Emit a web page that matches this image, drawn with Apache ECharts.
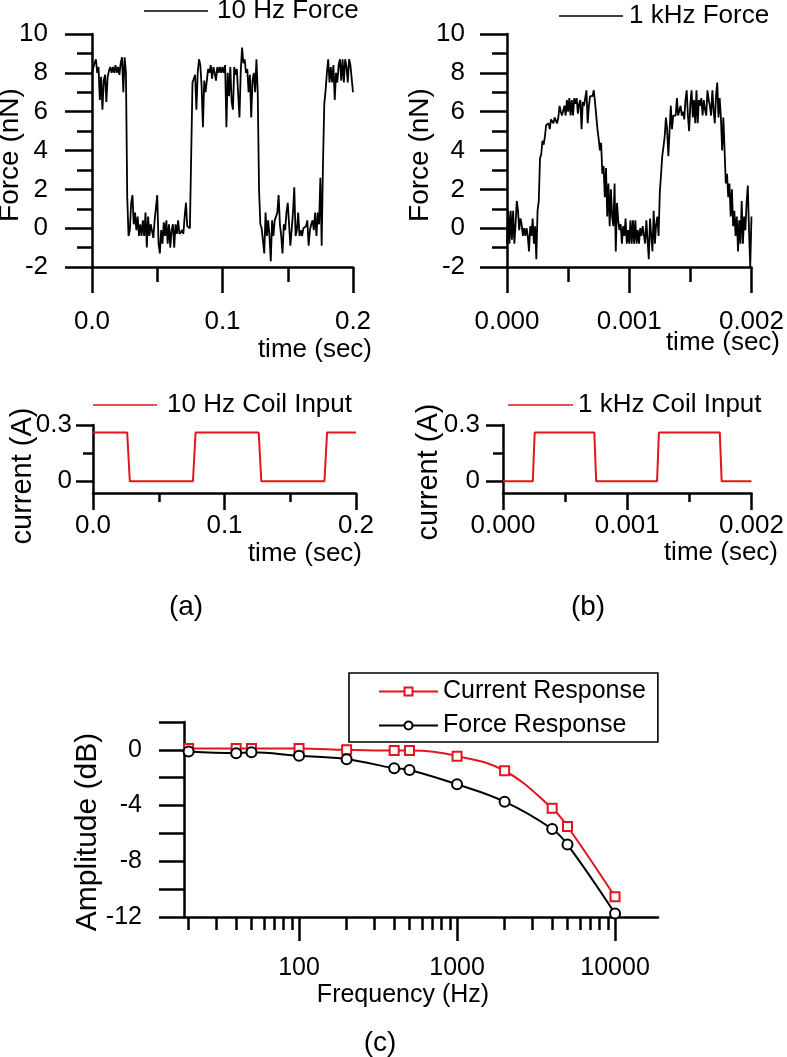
<!DOCTYPE html>
<html>
<head>
<meta charset="utf-8">
<title>Coil input and force response</title>
<script src="https://cdn.jsdelivr.net/npm/echarts@6/dist/echarts.min.js"></script>
<style>
  html, body { margin: 0; padding: 0; background: #fff; }
  #chart { width: 787px; height: 1057px; }
</style>
</head>
<body>
<div id="chart"></div>
<script>
// sampling step of the force traces (10 Hz: 1 ms, 1 kHz: 10 us)
const step10 = 0.001
const step1k = 0.00001

// 10 Hz force trace (nN), one value per 1 ms, 0 .. 0.2 s
const force10 = [
  8.0, 8.1, 8.5, 8.7, 8.0, 8.3, 6.6, 7.8, 6.1, 7.6,
  7.9, 6.5, 7.8, 8.1, 8.3, 8.0, 8.3, 8.0, 8.4, 8.0,
  8.3, 7.9, 8.5, 8.8, 7.0, 8.8, 8.0, 1.6, -0.4, -0.1,
  1.3, 1.7, 0.2, 0.8, -0.1, 0.6, -0.4, 0.2, -0.4, 0.4,
  -0.4, 0.8, -1.0, 0.6, -0.4, 0.2, 0.3, -0.5, 0.4, 0.4,
  1.7, -0.8, -1.3, -0.1, -0.8, 0.3, -0.4, 0.4, -0.8, 0.2,
  -1.0, -0.1, 0.2, -1.0, 0.2, -0.3, 0.4, -0.3, -0.4, -0.1,
  -0.3, 0.6, 1.3, 0.1, 0.1, 0.0, 3.7, 7.5, 7.6, 7.9,
  6.1, 8.0, 8.7, 8.4, 7.3, 5.2, 7.6, 7.0, 7.6, 8.2,
  8.0, 8.4, 7.7, 8.3, 8.0, 7.6, 8.3, 8.0, 8.3, 8.0,
  8.3, 8.0, 8.4, 5.2, 8.0, 6.8, 8.3, 6.5, 6.1, 8.3,
  7.9, 8.2, 6.9, 5.7, 8.1, 9.3, 8.5, 8.7, 8.0, 8.2,
  7.0, 7.9, 5.7, 7.6, 8.0, 7.0, 8.7, 7.0, 2.0, 0.2,
  0.0, 0.0, -1.3, 0.8, -0.4, 0.4, -0.4, -1.7, 0.4, -0.4,
  0.4, 0.3, 0.8, 1.7, 0.2, -0.4, -1.3, 0.2, -0.1, 0.8,
  1.3, 0.2, -0.9, -0.1, 0.8, 2.1, -0.4, -0.1, 0.8, -0.4,
  -0.1, -0.4, 0.0, -0.1, 0.1, 0.4, -0.9, -0.1, 0.2, 0.4,
  -0.1, 0.8, -0.4, 0.8, 0.2, 2.6, -0.9, 3.3, 6.4, 7.1,
  8.0, 8.7, 7.5, 8.3, 7.5, 8.4, 6.6, 8.0, 7.5, 8.4,
  8.7, 7.6, 8.7, 7.5, 8.7, 8.3, 7.5, 8.7, 8.4, 8.5,
  7.0
]

// 1 kHz force trace (nN), one value per 10 us, 0 .. 0.002 s
const force1k = [
  -0.8, 0.9, -0.8, 0.9, -0.6, 0.9, -0.8, 0.2, 1.4, 0.9,
  -0.1, 0.5, 0.2, -0.4, 0.0, -0.4, 0.0, -0.4, -1.2, 0.1,
  -0.4, 0.5, -0.8, 0.1, -1.6, 0.9, 1.4, 3.6, 3.8, 4.5,
  4.3, 4.7, 5.3, 5.2, 5.4, 5.1, 5.6, 5.7, 5.4, 5.7,
  5.7, 5.4, 5.7, 6.3, 6.0, 5.8, 5.8, 6.3, 5.8, 6.6,
  6.0, 6.7, 5.8, 6.6, 5.8, 6.7, 6.4, 6.7, 5.9, 6.4,
  6.6, 5.1, 6.5, 6.3, 6.7, 7.1, 5.4, 6.3, 6.8, 6.7,
  6.8, 7.1, 6.5, 5.8, 5.1, 4.6, 4.0, 4.4, 2.8, 3.2,
  1.6, 3.1, 0.6, 2.3, 0.1, 2.0, 0.6, 0.1, 2.3, -1.2,
  1.3, 0.4, -0.1, 0.2, -0.8, 0.1, -0.4, 0.5, -0.8, -0.1,
  -0.8, 0.4, -0.8, 0.4, -0.8, 0.4, -0.8, -0.1, -0.8, 0.0,
  -0.4, 0.1, 0.0, -0.8, 0.4, 0.3, -1.6, 0.5, -0.4, -1.2,
  0.9, -0.8, 0.2, 0.6, -0.4, 1.8, 1.9, 3.7, 3.8, 4.7,
  5.7, 5.1, 3.7, 3.6, 6.3, 5.1, 5.8, 5.7, 5.8, 6.7,
  5.8, 5.8, 6.3, 5.8, 6.0, 5.6, 6.6, 7.1, 5.8, 5.0,
  6.4, 7.1, 5.7, 6.6, 5.4, 7.1, 5.4, 6.6, 6.3, 6.7,
  5.8, 6.6, 6.1, 5.8, 7.1, 6.6, 6.3, 5.8, 7.1, 6.1,
  5.4, 6.8, 7.5, 5.7, 6.7, 5.7, 4.0, 5.7, 4.0, 2.3,
  2.8, 1.6, 2.3, 0.6, 2.0, 0.1, 0.9, -0.4, 0.6, -1.2,
  0.4, -0.8, 1.4, -0.8, 0.6, -0.1, 1.3, 2.2, -0.1, -2.0,
  0.6
]

// coil input square waves (A)
const coilTime10 = [0, 0.026, 0.028, 0.076, 0.078, 0.126, 0.128, 0.176, 0.178, 0.2]
const coilAmp10 = [0.26, 0.26, 0, 0, 0.26, 0.26, 0, 0, 0.26, 0.26]
const coilTime1k = [0, 0.00024, 0.000255, 0.000735, 0.00075, 0.00124, 0.001255, 0.001745, 0.00176, 0.002]
const coilAmp1k = [0, 0, 0.26, 0.26, 0, 0, 0.26, 0.26, 0, 0]

// frequency response (dB)
const freqs = [20, 40, 50, 100, 200, 400, 500, 1000, 2000, 4000, 5000, 10000]
const currentDb = [0.1, 0.1, 0.1, 0.1, 0.0, -0.05, -0.05, -0.45, -1.5, -4.2, -5.5, -10.55]
const forceDb = [-0.12, -0.24, -0.17, -0.43, -0.67, -1.32, -1.44, -2.47, -3.72, -5.68, -6.8, -11.75]

// tick values for the log frequency axis
const majorFreqTicks = [100, 1000, 10000]
const minorFreqTicks = [20, 30, 40, 50, 60, 70, 80, 90,
  200, 300, 400, 500, 600, 700, 800, 900,
  2000, 3000, 4000, 5000, 6000, 7000, 8000, 9000]
const coilMajorTicks = [0, 0.3]
const coilMinorTicks = [0.15]

const FONT = '"Liberation Sans", Arial, Helvetica, sans-serif'
const BLACK = '#000'
const RED = '#e2141c'
const AXIS_W = 2.5
const FREQ_MIN = 18.7
const FREQ_MAX = 18700
const COIL_MIN = -0.063
const COIL_MAX = 0.3

const chart = echarts.init(document.getElementById('chart'), null, { renderer: 'canvas' })

const axisLine = { show: true, onZero: false, lineStyle: { color: BLACK, width: AXIS_W } }
const hiddenLine = { show: false, onZero: false }
const tickStyle = { color: BLACK, width: AXIS_W }
const label = (size, margin, extra) => Object.assign({ color: BLACK, fontFamily: FONT, fontSize: size, margin }, extra)

const timeAxis = (grid, max, interval, digits, opts) => ({
  type: 'value', gridIndex: grid, position: 'bottom', min: 0, max, interval,
  axisLine,
  axisTick: { show: true, inside: false, length: opts.tick, lineStyle: tickStyle },
  minorTick: { show: true, splitNumber: 2, length: opts.minor, lineStyle: tickStyle },
  axisLabel: label(26, opts.margin, { formatter: v => v.toFixed(digits) }),
  splitLine: { show: false },
  minorSplitLine: { show: false },
})

const forceYAxis = (grid, margin) => ({
  type: 'value', gridIndex: grid, position: 'left', min: -2, max: 10, interval: 2,
  axisLine,
  axisTick: { show: true, length: 27, lineStyle: tickStyle },
  minorTick: { show: true, splitNumber: 2, length: 15, lineStyle: tickStyle },
  axisLabel: label(26, margin),
  splitLine: { show: false },
})

const coilYAxis = (grid, margin) => ({
  type: 'value', gridIndex: grid, position: 'left', min: COIL_MIN, max: COIL_MAX,
  axisLine,
  axisTick: { show: true, length: 17, lineStyle: tickStyle, customValues: coilMajorTicks },
  axisLabel: label(26, margin, { customValues: coilMajorTicks, formatter: v => (v === 0 ? '0' : v.toFixed(1)) }),
  splitLine: { show: false },
})

const coilYMinor = grid => ({
  type: 'value', gridIndex: grid, position: 'left', min: COIL_MIN, max: COIL_MAX,
  axisLine: hiddenLine,
  axisTick: { show: true, length: 10, lineStyle: tickStyle, customValues: coilMinorTicks },
  axisLabel: { show: false },
  splitLine: { show: false },
})

const lineLegend = (name, left, top, width, gap) => ({
  data: [name], left, top, padding: 0,
  icon: 'rect', itemWidth: width, itemHeight: 1.6,
  textStyle: { color: BLACK, fontFamily: FONT, fontSize: 26, padding: [0, 0, 0, gap] },
})

const text = (str, x, y, size, opts = {}) => ({
  type: 'text', x, y, rotation: opts.rotate ? Math.PI / 2 : 0,
  style: {
    text: str, fill: BLACK, fontFamily: FONT, fontSize: size,
    align: opts.align || 'center', verticalAlign: 'middle',
  },
})

const option = {
  animation: false,
  backgroundColor: '#fff',
  grid: [
    { left: 92, top: 34, width: 261, height: 233 },
    { left: 507, top: 34, width: 260, height: 233 },
    { left: 93, top: 425, width: 263, height: 68 },
    { left: 503, top: 425, width: 262, height: 68 },
    { left: 184, top: 722, width: 474, height: 195 },
  ],
  xAxis: [
    timeAxis(0, 0.2, 0.1, 1, { tick: 26, minor: 15, margin: 42 }),
    timeAxis(1, 0.002, 0.001, 3, { tick: 26, minor: 15, margin: 42 }),
    timeAxis(2, 0.2, 0.1, 1, { tick: 17, minor: 9, margin: 20 }),
    timeAxis(3, 0.002, 0.001, 3, { tick: 17, minor: 9, margin: 20 }),
    {
      type: 'log', gridIndex: 4, position: 'bottom', min: FREQ_MIN, max: FREQ_MAX, logBase: 10,
      axisLine,
      axisTick: { show: false },
      axisLabel: { show: false },
      splitLine: { show: false },
    },
    {
      type: 'value', gridIndex: 4, position: 'bottom', min: Math.log10(FREQ_MIN), max: Math.log10(FREQ_MAX),
      axisLine: hiddenLine,
      axisTick: { show: true, length: 24, lineStyle: tickStyle, customValues: majorFreqTicks.map(Math.log10) },
      axisLabel: label(25, 39, {
        customValues: majorFreqTicks.map(Math.log10),
        formatter: v => String(Math.round(Math.pow(10, v))),
      }),
      splitLine: { show: false },
    },
    {
      type: 'value', gridIndex: 4, position: 'bottom', min: Math.log10(FREQ_MIN), max: Math.log10(FREQ_MAX),
      axisLine: hiddenLine,
      axisTick: { show: true, length: 13, lineStyle: tickStyle, customValues: minorFreqTicks.map(Math.log10) },
      axisLabel: { show: false },
      splitLine: { show: false },
    },
  ],
  yAxis: [
    forceYAxis(0, 44),
    forceYAxis(1, 42),
    coilYAxis(2, 21),
    coilYMinor(2),
    coilYAxis(3, 23),
    coilYMinor(3),
    {
      type: 'value', gridIndex: 4, position: 'left', min: -12, max: 2, interval: 2,
      axisLine,
      axisTick: { show: true, length: 25, lineStyle: tickStyle },
      axisLabel: label(25, 42, { formatter: v => (v % 4 === 0 ? String(v) : '') }),
      splitLine: { show: false },
    },
  ],
  legend: [
    lineLegend('10 Hz Force', 144, -2, 64, 4),
    lineLegend('1 kHz Force', 559, 3, 64, 1),
    lineLegend('10 Hz Coil Input', 93, 392, 64, 5),
    lineLegend('1 kHz Coil Input', 508, 392, 65, 0),
    {
      data: ['Current Response', 'Force Response'],
      orient: 'vertical', left: 349, top: 673,
      padding: [6, 12, 4, 29], itemGap: 9,
      itemWidth: 59, itemHeight: 10,
      borderColor: BLACK, borderWidth: 1.6,
      textStyle: { color: BLACK, fontFamily: FONT, fontSize: 25 },
    },
  ],
  series: [
    {
      name: '10 Hz Force', type: 'line', xAxisIndex: 0, yAxisIndex: 0,
      data: force10.map((v, i) => [i * step10, v]),
      symbol: 'none', color: BLACK, lineStyle: { color: BLACK, width: 1.8 },
    },
    {
      name: '1 kHz Force', type: 'line', xAxisIndex: 1, yAxisIndex: 1,
      data: force1k.map((v, i) => [i * step1k, v]),
      symbol: 'none', color: BLACK, lineStyle: { color: BLACK, width: 1.8 },
    },
    {
      name: '10 Hz Coil Input', type: 'line', xAxisIndex: 2, yAxisIndex: 2,
      data: coilTime10.map((t, i) => [t, coilAmp10[i]]),
      symbol: 'none', color: RED, lineStyle: { color: RED, width: 2 },
    },
    {
      name: '1 kHz Coil Input', type: 'line', xAxisIndex: 3, yAxisIndex: 4,
      data: coilTime1k.map((t, i) => [t, coilAmp1k[i]]),
      symbol: 'none', color: RED, lineStyle: { color: RED, width: 2 },
    },
    {
      name: 'Current Response', type: 'line', xAxisIndex: 4, yAxisIndex: 6,
      data: freqs.map((f, i) => [f, currentDb[i]]),
      smooth: 0.4, symbol: 'emptyRect', symbolSize: 9, color: RED,
      lineStyle: { color: RED, width: 2 },
      itemStyle: { color: RED, borderColor: RED, borderWidth: 2 },
    },
    {
      name: 'Force Response', type: 'line', xAxisIndex: 4, yAxisIndex: 6,
      data: freqs.map((f, i) => [f, forceDb[i]]),
      smooth: 0.4, symbol: 'emptyCircle', symbolSize: 10, color: BLACK,
      lineStyle: { color: BLACK, width: 2 },
      itemStyle: { color: BLACK, borderColor: BLACK, borderWidth: 2 },
    },
  ],
  graphic: [
    text('Force (nN)', 10, 155, 28, { rotate: true }),
    text('Force (nN)', 420, 155, 28, { rotate: true }),
    text('current (A)', 23, 476, 29, { rotate: true }),
    text('current (A)', 429, 472, 29, { rotate: true }),
    text('Amplitude (dB)', 88, 832, 30, { rotate: true }),
    text('time (sec)', 372, 350, 26, { align: 'right' }),
    text('time (sec)', 780, 343, 26, { align: 'right' }),
    text('time (sec)', 362, 554, 26, { align: 'right' }),
    text('time (sec)', 778, 553, 26, { align: 'right' }),
    text('Frequency (Hz)', 403, 995, 25),
    text('(a)', 186, 607, 28),
    text('(b)', 588, 607, 28),
    text('(c)', 380, 1043, 28),
  ],
}

chart.setOption(option)
window.addEventListener('resize', () => chart.resize())
</script>
</body>
</html>
